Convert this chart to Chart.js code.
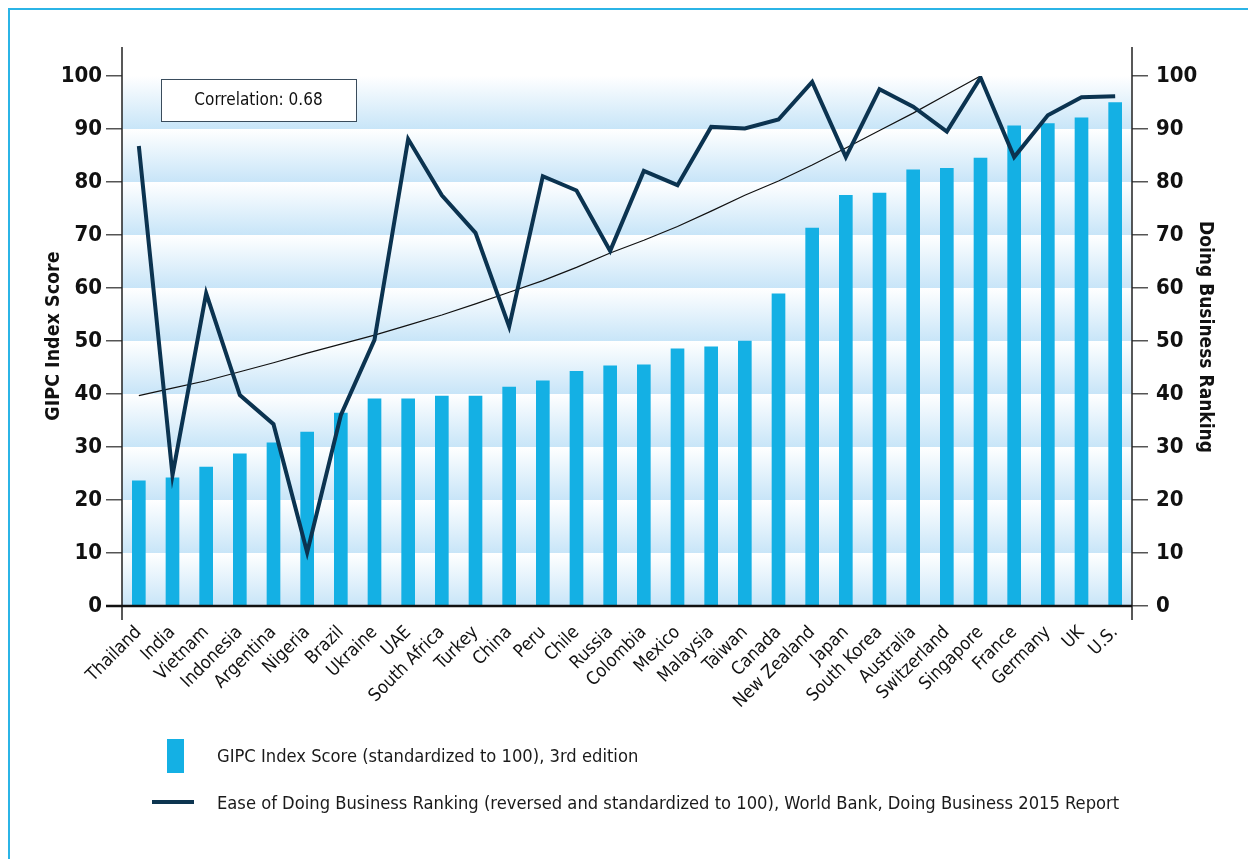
<!DOCTYPE html>
<html>
<head>
<meta charset="utf-8">
<script src="https://cdn.jsdelivr.net/npm/chart.js@4.4.1/dist/chart.umd.min.js"></script>
<style>
  html, body { margin: 0; padding: 0; background: #fff; overflow: hidden; }
  #wrap { position: relative; width: 1248px; height: 859px; }
  #frame { position: absolute; left: 8px; top: 8px; width: 1300px; height: 900px;
           border-left: 2.5px solid #2bb4e6; border-top: 2.5px solid #2bb4e6; }
  canvas { position: absolute; left: 0; top: 0; }
  .legend { position: absolute; left: 0; font-family: 'Liberation Sans Narrow', 'DejaVu Sans Condensed', sans-serif;
            font-size: 18.2px; color: #1a1a1a; }
  .legend .txt { position: absolute; left: 217px; white-space: nowrap; }
</style>
</head>
<body>
<div id="wrap">
  <div id="frame"></div>
  <canvas id="chart" width="1248" height="859"></canvas>
  <div class="legend" style="top:739px;">
    <div style="position:absolute;left:167px;top:0;width:17px;height:34px;background:#14b0e4;"></div>
    <div class="txt" style="top:6px;">GIPC Index Score (standardized to 100), 3rd edition</div>
  </div>
  <div class="legend" style="top:790px;">
    <div style="position:absolute;left:152px;top:10px;width:42px;height:4px;background:#0d3550;"></div>
    <div class="txt" style="top:2px;">Ease of Doing Business Ranking (reversed and standardized to 100), World Bank, Doing Business 2015 Report</div>
  </div>
</div>
<script>
// --- DATOS ---
const countries = ['Thailand', 'India', 'Vietnam', 'Indonesia', 'Argentina', 'Nigeria', 'Brazil', 'Ukraine', 'UAE',
  'South Africa', 'Turkey', 'China', 'Peru', 'Chile', 'Russia', 'Colombia', 'Mexico', 'Malaysia', 'Taiwan', 'Canada',
  'New Zealand', 'Japan', 'South Korea', 'Australia', 'Switzerland', 'Singapore', 'France', 'Germany', 'UK', 'U.S.'];

const gipcScores = [23.6, 24.2, 26.2, 28.7, 30.8, 32.8, 36.4, 39.1, 39.1, 39.6, 39.6, 41.3, 42.5, 44.3, 45.3,
  45.5, 48.5, 48.9, 50.0, 58.9, 71.3, 77.5, 77.9, 82.3, 82.6, 84.5, 90.6, 91.0, 92.1, 95.0];

const doingBusiness = [86.8, 24.7, 59.0, 39.8, 34.3, 10.1, 36.0, 50.2, 88.1, 77.5, 70.4, 52.7, 81.1, 78.4, 67.0,
  82.1, 79.4, 90.4, 90.1, 91.8, 98.9, 84.7, 97.5, 94.2, 89.5, 99.7, 84.7, 92.6, 96.0, 96.2];

// linea de tendencia (termina en Singapore)
const trendValues = [39.7, 41.1, 42.5, 44.2, 45.9, 47.7, 49.4, 51.1, 53.0, 54.9, 57.0, 59.2, 61.4, 63.9, 66.6,
  69.0, 71.6, 74.5, 77.5, 80.2, 83.2, 86.4, 89.7, 93.0, 96.5, 100.0, null, null, null, null];

const yTicks = [0, 10, 20, 30, 40, 50, 60, 70, 80, 90, 100];
const leftTitle = 'GIPC Index Score';
const rightTitle = 'Doing Business Ranking';
const correlationText = 'Correlation: 0.68';

const NARROW = "'Liberation Sans Narrow', 'DejaVu Sans Condensed', sans-serif";

// --- PLUGINS ---
const bandPlugin = {
  id: 'bands',
  beforeDatasetsDraw(chart) {
    const { ctx, chartArea: a, scales: { y } } = chart;
    ctx.save();
    for (let i = 0; i < yTicks.length - 1; i++) {
      const top = y.getPixelForValue(yTicks[i + 1]);
      const bot = y.getPixelForValue(yTicks[i]);
      const g = ctx.createLinearGradient(0, top, 0, bot);
      g.addColorStop(0, '#ffffff');
      g.addColorStop(1, '#c8e5f8');
      ctx.fillStyle = g;
      ctx.fillRect(a.left, top, a.right - a.left, bot - top);
    }
    ctx.restore();
  }
};

const framePlugin = {
  id: 'frameStuff',
  afterDatasetsDraw(chart) {
    const { ctx, chartArea: a } = chart;
    ctx.save();
    // ejes verticales
    ctx.strokeStyle = '#222';
    ctx.lineWidth = 1.5;
    ctx.beginPath();
    ctx.moveTo(a.left, a.top - 29); ctx.lineTo(a.left, a.bottom + 14);
    ctx.moveTo(a.right, a.top - 29); ctx.lineTo(a.right, a.bottom + 14);
    ctx.stroke();
    // eje x
    ctx.strokeStyle = '#111';
    ctx.lineWidth = 2.5;
    ctx.beginPath();
    ctx.moveTo(a.left - 16, a.bottom); ctx.lineTo(a.right, a.bottom);
    ctx.stroke();

    // caja de correlacion
    ctx.fillStyle = '#fff';
    ctx.fillRect(161, 79, 195, 42);
    ctx.strokeStyle = '#3a4c5c';
    ctx.lineWidth = 1;
    ctx.strokeRect(161.5, 79.5, 195, 42);
    ctx.fillStyle = '#111';
    ctx.font = '17px ' + NARROW;
    ctx.textAlign = 'center';
    ctx.textBaseline = 'middle';
    ctx.fillText(correlationText, 258.5, 101);

    // titulos de ejes
    ctx.font = 'bold 19.5px ' + NARROW;
    ctx.save();
    ctx.translate(54, 336);
    ctx.rotate(-Math.PI / 2);
    ctx.fillText(leftTitle, 0, 0);
    ctx.restore();
    ctx.font = 'bold 19px ' + NARROW;
    ctx.save();
    ctx.translate(1205, 337);
    ctx.rotate(Math.PI / 2);
    ctx.fillText(rightTitle, 0, 0);
    ctx.restore();
    ctx.restore();
  }
};

// --- GRAFICO ---
const tickFont = { family: NARROW, size: 22, weight: 'bold' };

new Chart(document.getElementById('chart'), {
  data: {
    labels: countries,
    datasets: [
      {
        type: 'line',
        label: 'Trend',
        data: trendValues,
        borderColor: '#111',
        borderWidth: 1.2,
        pointRadius: 0,
        spanGaps: false,
        yAxisID: 'y2',
        order: 1
      },
      {
        type: 'line',
        label: 'Ease of Doing Business Ranking',
        data: doingBusiness,
        borderColor: '#0b3350',
        borderWidth: 4,
        pointRadius: 0,
        borderJoinStyle: 'miter',
        yAxisID: 'y2',
        order: 0
      },
      {
        type: 'bar',
        label: 'GIPC Index Score',
        data: gipcScores,
        backgroundColor: '#14b0e4',
        barThickness: 13,
        yAxisID: 'y',
        order: 2
      }
    ]
  },
  options: {
    responsive: false,
    animation: false,
    layout: { padding: { top: 76, left: 0, right: 0, bottom: 0 } },
    plugins: { legend: { display: false }, tooltip: { enabled: false } },
    scales: {
      x: {
        grid: { display: false },
        border: { display: false },
        ticks: {
          autoSkip: false, maxRotation: 45, minRotation: 45, padding: 8,
          color: '#111', font: { family: NARROW, size: 18 }
        },
        afterFit(scale) { scale.height = 253; }
      },
      y: {
        position: 'left', min: 0, max: 100,
        border: { display: false },
        grid: { drawOnChartArea: false, tickLength: 16, color: '#555', lineWidth: 1.5 },
        ticks: { stepSize: 10, padding: 4, color: '#111', font: tickFont },
        afterFit(scale) { scale.width = 122; }
      },
      y2: {
        position: 'right', min: 0, max: 100,
        border: { display: false },
        grid: { drawOnChartArea: false, tickLength: 16, color: '#555', lineWidth: 1.5 },
        ticks: { stepSize: 10, padding: 8, color: '#111', font: tickFont },
        afterFit(scale) { scale.width = 116; }
      }
    }
  },
  plugins: [bandPlugin, framePlugin]
});
</script>
</body>
</html>
